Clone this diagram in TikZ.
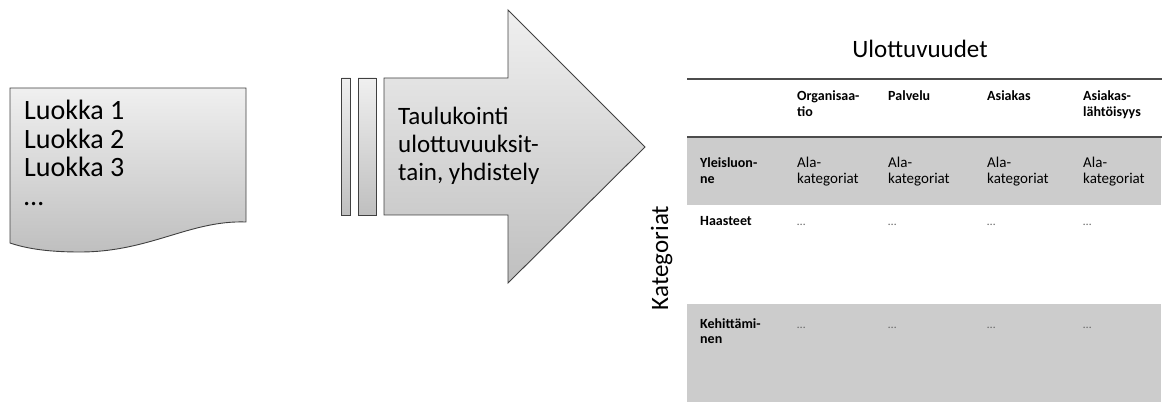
\documentclass[tikz,border=0pt]{standalone}
\usepackage{fontspec}
\setmainfont{Carlito}
\usetikzlibrary{calc}
\tikzset{>=latex}
\tikzset{
  verlauf/.style={top color=gray!12, bottom color=gray!50, draw=black!75, line width=0.9pt},
  kopf/.style={font=\fontsize{14}{16}\selectfont\bfseries, align=left, anchor=base west, inner sep=0pt},
  zelle/.style={font=\fontsize{15}{16}\selectfont, align=left, anchor=base west, inner sep=0pt},
  punkte/.style={font=\fontsize{12}{16}\selectfont, text=black!60, anchor=base west, inner sep=0pt},
  regel/.style={draw=black!70, line width=1.6pt}
}
\begin{document}
\begin{tikzpicture}[x=1pt,y=-1pt]
  \useasboundingbox (0,0) rectangle (1162,403);
  % 左边的文档形状
  \draw[verlauf] (10,88) -- (246,88) -- (246,222)
        .. controls (190,220) and (150,252) .. (80,252)
        .. controls (45,252) and (25,248) .. (10,243) -- cycle;
  % 多行节点的 base 在最后一行
  \node[anchor=base west, inner sep=0pt, align=left,
        font=\fontsize{28}{28.5}\selectfont] (luokat) at (24,205.5)
        {Luokka 1\\Luokka 2\\Luokka 3\\\dots};
  % 中间的箭头
  \draw[verlauf] (341.7,78) rectangle (350.7,215);
  \draw[verlauf] (358,78) rectangle (376,215);
  \draw[verlauf] (384,78) -- (508,78) -- (508,10) -- (645,147)
        -- (508,283) -- (508,215) -- (384,215) -- cycle;
  \node[anchor=base west, inner sep=0pt, align=left,
        font=\fontsize{25}{28}\selectfont] (taulukointi) at (398,181)
        {Taulukointi\\ulottuvuuksit-\\tain, yhdistely};
  % 右边的表格
  \fill[gray!40] (687,137) rectangle (1161,205);
  \fill[gray!40] (687,304) rectangle (1161,402);
  \draw[regel] (687,79) -- (1162,79);
  \draw[regel] (687,137) -- (1162,137);
  \node[anchor=base, inner sep=0pt, font=\fontsize{25}{28}\selectfont]
        (ulottuvuudet) at (920,58) {Ulottuvuudet};
  \node[anchor=base, rotate=90, inner sep=0pt, font=\fontsize{25}{28}\selectfont]
        (kategoriat) at (668,258) {Kategoriat};
  % 表头
  \foreach \x/\y/\t [count=\i] in {797/117/{Organisaa-\\tio},888/101/Palvelu,987/101/Asiakas,1083/117/{Asiakas-\\lähtöisyys}}
    \node[kopf] (kopf\i) at (\x,\y) {\t};
  % 行名
  \node[kopf] (rivi1) at (700,184) {Yleisluon-\\ne};
  \node[kopf] (rivi2) at (700,226) {Haasteet};
  \node[kopf] (rivi3) at (700,344) {Kehittämi-\\nen};
  % 单元格
  \foreach \x [count=\i] in {797,888,987,1083}{
    \node[zelle] (ala\i) at (\x,184) {Ala-\\kategoriat};
    \node[punkte] (haaste\i) at (\x,226) {…};
    \node[punkte] (kehitys\i) at (\x,328) {…};
  }
\end{tikzpicture}
\end{document}
